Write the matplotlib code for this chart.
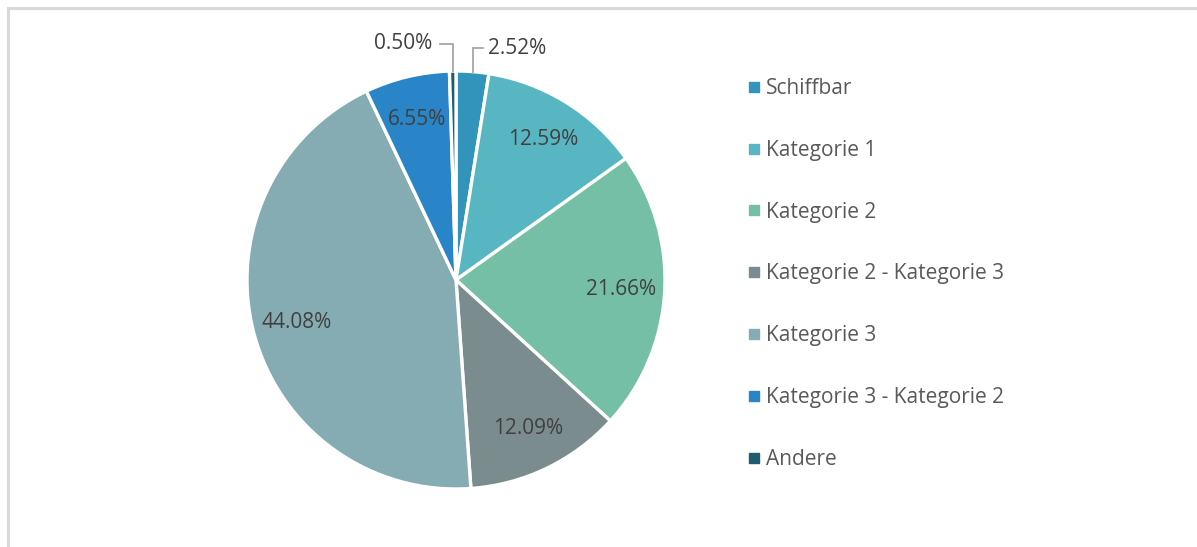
import matplotlib.pyplot as plt
from matplotlib.lines import Line2D
import numpy as np

labels = ["Schiffbar", "Kategorie 1", "Kategorie 2", "Kategorie 2 - Kategorie 3",
          "Kategorie 3", "Kategorie 3 - Kategorie 2", "Andere"]
values = [2.52, 12.59, 21.66, 12.09, 44.08, 6.55, 0.50]
colors = ["#3294BA", "#57B6C1", "#75BFA7", "#7B8C8E", "#85ABB3", "#2984C8", "#1F5C70"]

plt.rcParams['font.family'] = ['Open Sans', 'DejaVu Sans']

W, H = 1197, 547
fig = plt.figure(figsize=(W / 100, H / 100), dpi=100)

# light frame (only top and left visible in the original)
fig.add_artist(Line2D([7.5 / W, 7.5 / W], [0, 1 - 7.5 / H], color="#D9D9D9", lw=2.2))
fig.add_artist(Line2D([7.5 / W, 1], [1 - 7.5 / H, 1 - 7.5 / H], color="#D9D9D9", lw=2.2))

cx, cy, r = 456, 280, 209
ax = fig.add_axes([(cx - r) / W, (H - cy - r) / H, 2 * r / W, 2 * r / H])
ax.set_aspect("equal")
ax.axis("off")

wedges, _ = ax.pie(values, colors=colors, startangle=90, counterclock=False,
                   radius=1, wedgeprops=dict(edgecolor="white", linewidth=2.4))
ax.set_xlim(-1, 1)
ax.set_ylim(-1, 1)

txt_col = "#404040"
fs = 15
cum = np.cumsum([0] + values)
for i, v in enumerate(values):
    mid = (cum[i] + cum[i + 1]) / 2 / 100 * 360
    ang = np.deg2rad(90 - mid)
    if v >= 5:
        d = 0.79
        ax.text(d * np.cos(ang), d * np.sin(ang), f"{v:.2f}%", ha="center", va="center",
                fontsize=fs, color=txt_col)

# outside labels with leader lines
def leader(i, ybend, xend, tx, ha):
    mid = (cum[i] + cum[i + 1]) / 2 / 100 * 360
    ang = np.deg2rad(90 - mid)
    x0, y0 = np.cos(ang), np.sin(ang)
    ax.plot([x0, x0, xend], [y0, ybend, ybend], color="#A6A6A6", lw=1.3,
            clip_on=False, solid_joinstyle="miter")
    ax.text(tx, ybend, f"{values[i]:.2f}%", ha=ha, va="center",
            fontsize=fs, color=txt_col, clip_on=False)

leader(0, 1.11, 0.13, 0.153, "left")
leader(6, 1.13, -0.078, -0.115, "right")

handles = [Line2D([], [], marker="s", linestyle="none", markersize=6.5,
                  markerfacecolor=c, markeredgecolor=c) for c in colors]
leg = fig.legend(handles, labels, loc="upper left", bbox_to_anchor=(749 / W, 1 - 78 / H),
                 frameon=False, fontsize=fs, labelcolor="#595959",
                 handlelength=0.5, handletextpad=0.3, labelspacing=1.96,
                 borderpad=0, borderaxespad=0)

fig.savefig("out.png", dpi=100)
